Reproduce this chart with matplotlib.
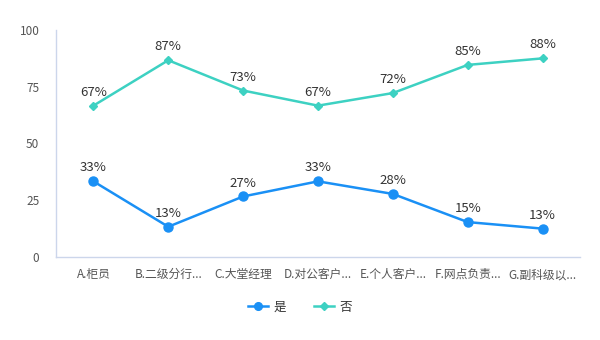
import matplotlib
matplotlib.use('Agg')
import matplotlib.pyplot as plt

plt.rcParams['font.family'] = ['Noto Sans CJK SC', 'DejaVu Sans']

categorias = ['A.柜员', 'B.二级分行...', 'C.大堂经理', 'D.对公客户...',
              'E.个人客户...', 'F.网点负责...', 'G.副科级以...']
si = [33.33, 13.33, 26.67, 33.33, 27.78, 15.38, 12.5]
no = [66.67, 86.67, 73.33, 66.67, 72.22, 84.62, 87.5]
yticks = [0, 25, 50, 75, 100]

COLOR_SI = '#1a90f5'
COLOR_NO = '#3dd1c2'
EJE = '#ccd6eb'

fig = plt.figure(figsize=(6, 3.4), dpi=100)
ax = fig.add_axes([0.0933, 0.2441, 0.8734, 0.6677])

x = list(range(len(categorias)))
ax.plot(x, si, '-o', color=COLOR_SI, linewidth=1.8, markersize=6.5, label='是')
ax.plot(x, no, '-D', color=COLOR_NO, linewidth=1.8, markersize=4.5, label='否')

# etiquetas redondeando hacia arriba en .5
for serie in (si, no):
    for xi, v in zip(x, serie):
        ax.annotate(f'{int(v + 0.5)}%', (xi, v), xytext=(0, 5), textcoords='offset points',
                    ha='center', va='bottom', fontsize=9.5, color='#333333')

ax.set_xlim(-0.5, len(categorias) - 0.5)
ax.set_ylim(0, 100)
ax.set_yticks(yticks)
ax.set_xticks(x)
ax.set_xticklabels(categorias)
ax.tick_params(axis='both', length=0, labelsize=8.5, colors='#555555')
ax.tick_params(axis='x', pad=8)
ax.tick_params(axis='y', pad=12)

for lado in ['top', 'right']:
    ax.spines[lado].set_visible(False)
for lado in ['left', 'bottom']:
    ax.spines[lado].set_color(EJE)
    ax.spines[lado].set_linewidth(1)

leg = fig.legend(loc='center', bbox_to_anchor=(0.5, 0.097), ncol=2, frameon=False,
                 fontsize=9, handlelength=1.6, columnspacing=2.2, handletextpad=0.5,
                 markerscale=0.85)
for t in leg.get_texts():
    t.set_color('#333333')

fig.savefig('out.png', dpi=100)
